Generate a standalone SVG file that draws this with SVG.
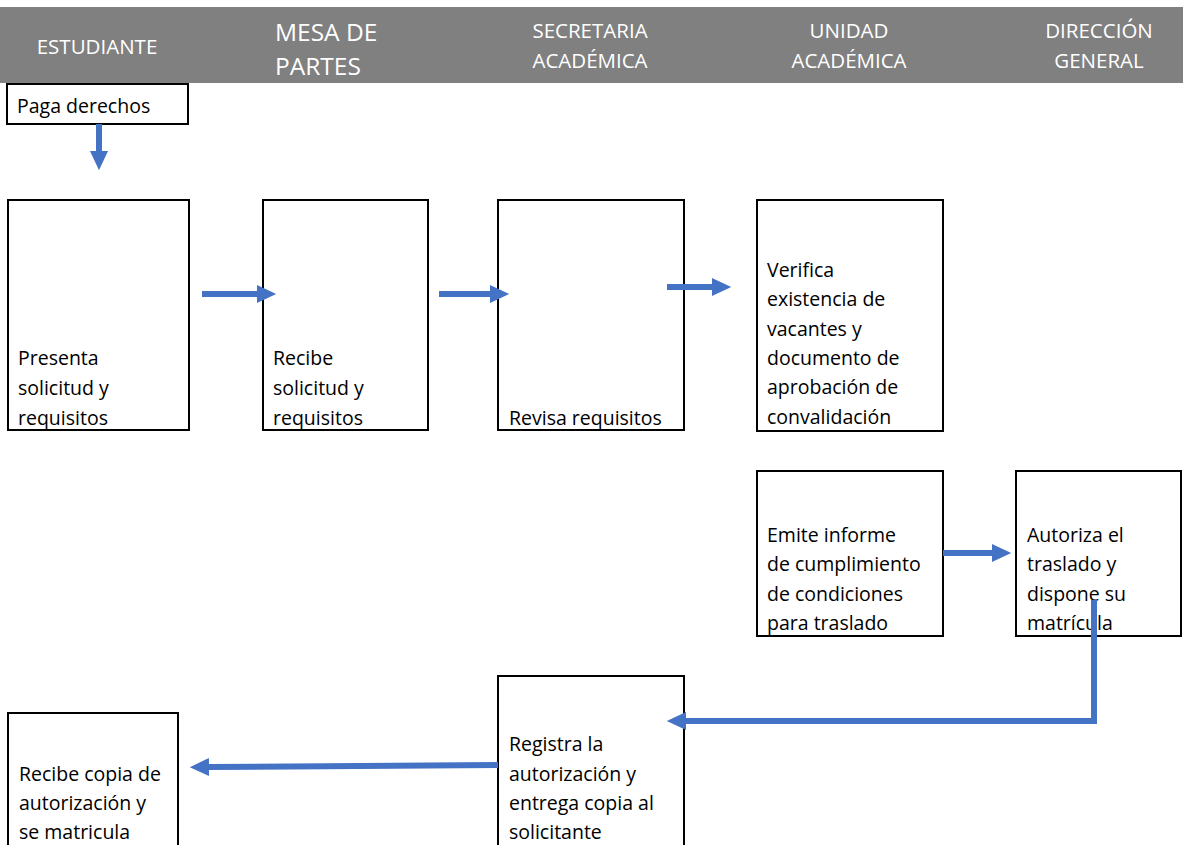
<svg xmlns="http://www.w3.org/2000/svg" width="1183" height="845" viewBox="0 0 1183 845">
<style>
.hdr{font-family:"Open Sans","Liberation Sans",sans-serif;fill:#ffffff;font-size:20.5px}
.big{font-size:24.5px}
.box{fill:#ffffff;stroke:#000000;stroke-width:2}
.t{font-family:"Open Sans","Liberation Sans",sans-serif;font-size:19.5px;fill:#000000}
.c{fill:none;stroke:#4472C4;stroke-width:6}
</style>
<defs>
<marker id="ah" markerWidth="4" markerHeight="4" refX="0" refY="1.5" orient="auto" markerUnits="strokeWidth">
<path d="M0,0 L3.2,1.5 L0,3 Z" fill="#4472C4"/>
</marker>
</defs>
<rect x="0" y="7" width="1183" height="76" fill="#808080"/>
<g id="headers">
<text class="hdr" x="97" y="54" text-anchor="middle">ESTUDIANTE</text>
<text class="hdr big" x="275" y="41">MESA DE</text>
<text class="hdr big" x="275" y="75">PARTES</text>
<text class="hdr" x="590" y="38" text-anchor="middle">SECRETARIA</text>
<text class="hdr" x="590" y="68" text-anchor="middle">ACADÉMICA</text>
<text class="hdr" x="849" y="38" text-anchor="middle">UNIDAD</text>
<text class="hdr" x="849" y="68" text-anchor="middle">ACADÉMICA</text>
<text class="hdr" x="1099" y="38" text-anchor="middle">DIRECCIÓN</text>
<text class="hdr" x="1099" y="68" text-anchor="middle">GENERAL</text>
</g>
<g id="n-paga">
<rect class="box" x="7" y="84" width="181" height="40"/>
<text class="t" x="17" y="113">Paga derechos</text>
</g>
<g id="n-presenta">
<rect class="box" x="8" y="200" width="181" height="230"/>
<text class="t" x="18" y="365">Presenta</text>
<text class="t" x="18" y="395">solicitud  y</text>
<text class="t" x="18" y="425">requisitos</text>
</g>
<g id="n-recibe">
<rect class="box" x="263" y="200" width="165" height="230"/>
<text class="t" x="273" y="365">Recibe</text>
<text class="t" x="273" y="395">solicitud y</text>
<text class="t" x="273" y="425">requisitos</text>
</g>
<g id="n-revisa">
<rect class="box" x="498" y="200" width="186" height="230"/>
<text class="t" x="509" y="425">Revisa requisitos</text>
</g>
<g id="n-verifica">
<rect class="box" x="757" y="200" width="186" height="231"/>
<text class="t" x="767" y="277">Verifica</text>
<text class="t" x="767" y="306">existencia de</text>
<text class="t" x="767" y="336">vacantes y</text>
<text class="t" x="767" y="365">documento de</text>
<text class="t" x="767" y="394">aprobación de</text>
<text class="t" x="767" y="424">convalidación</text>
</g>
<g id="n-emite">
<rect class="box" x="757" y="471" width="186" height="165"/>
<text class="t" x="767" y="542">Emite informe</text>
<text class="t" x="767" y="571">de cumplimiento</text>
<text class="t" x="767" y="601">de condiciones</text>
<text class="t" x="767" y="630">para traslado</text>
</g>
<g id="n-autoriza">
<rect class="box" x="1016" y="471" width="165" height="165"/>
<text class="t" x="1027" y="542">Autoriza el</text>
<text class="t" x="1027" y="571">traslado y</text>
<text class="t" x="1027" y="601">dispone su</text>
<text class="t" x="1027" y="630">matrícula</text>
</g>
<g id="n-registra">
<rect class="box" x="498" y="676" width="186" height="175"/>
<text class="t" x="509" y="751">Registra la</text>
<text class="t" x="509" y="781">autorización y</text>
<text class="t" x="509" y="810">entrega copia al</text>
<text class="t" x="509" y="839">solicitante</text>
</g>
<g id="n-recibecopia">
<rect class="box" x="8" y="713" width="170" height="140"/>
<text class="t" x="19" y="781">Recibe copia de</text>
<text class="t" x="19" y="810">autorización y</text>
<text class="t" x="19" y="839">se matricula</text>
</g>
<g id="connectors">
<line class="c" x1="99" y1="124" x2="99" y2="151" marker-end="url(#ah)"/>
<line class="c" x1="202" y1="294" x2="257" y2="294" marker-end="url(#ah)"/>
<line class="c" x1="439" y1="294" x2="490" y2="294" marker-end="url(#ah)"/>
<line class="c" x1="667" y1="287" x2="712" y2="287" marker-end="url(#ah)"/>
<line class="c" x1="943" y1="553" x2="992" y2="553" marker-end="url(#ah)"/>
<polyline class="c" points="1094,600 1094,721 686,721" marker-end="url(#ah)"/>
<line class="c" x1="498" y1="765" x2="209" y2="767" marker-end="url(#ah)"/>
</g>
</svg>
